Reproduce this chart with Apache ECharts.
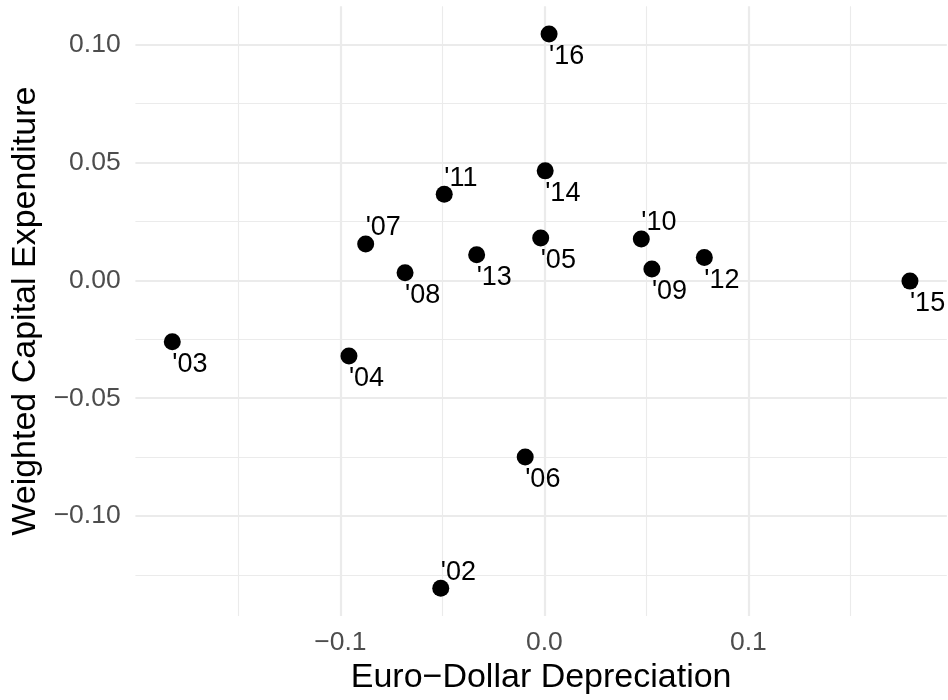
<!DOCTYPE html>
<html>
<head>
<meta charset="utf-8">
<title>Euro-Dollar Depreciation vs Weighted Capital Expenditure</title>
<script src="https://cdn.jsdelivr.net/npm/echarts@6/dist/echarts.min.js"></script>
<style>
  html, body { margin: 0; padding: 0; background: #fff; }
  #chart { width: 948px; height: 700px; }
</style>
</head>
<body>
<div id="chart"></div>
<script>
// year labels and values
const years = ["'02", "'03", "'04", "'05", "'06", "'07", "'08", "'09",
               "'10", "'11", "'12", "'13", "'14", "'15", "'16"];
const depreciation = [-0.0508, -0.1824, -0.0958, -0.0018, -0.0094, -0.0876, -0.0683, 0.0527,
                      0.0475, -0.0491, 0.0784, -0.0332, 0.0004, 0.1792, 0.0023];
const capex = [-0.1307, -0.0260, -0.0321, 0.0180, -0.0750, 0.0155, 0.0033, 0.0048,
               0.0176, 0.0366, 0.0097, 0.0109, 0.0465, -0.0003, 0.1046];

// labels drawn above their point instead of below
const labelsAbove = ["'02", "'07", "'10", "'11"];

// tick / grid positions
const xMajor = [-0.1, 0, 0.1];
const xMinor = [-0.15, -0.05, 0.05, 0.15];
const yMajor = [-0.10, -0.05, 0, 0.05, 0.10];
const yMinor = [-0.125, -0.075, -0.025, 0.025, 0.075];

// ggplot-like 5% expansion of the data range
function expanded(vals) {
  const lo = Math.min.apply(null, vals), hi = Math.max.apply(null, vals);
  const pad = (hi - lo) * 0.05;
  return [lo - pad, hi + pad];
}
const xr = expanded(depreciation);
const yr = expanded(capex);

const minus = s => s.replace('-', '\u2212');
const FONT = 'Liberation Sans';
const GRID = '#EBEBEB';

const points = years.map((y, i) => ({
  value: [depreciation[i], capex[i]],
  name: y,
  label: { offset: [0, labelsAbove.indexOf(y) >= 0 ? -16 : 22.5] }
}));

function gridAxis(values, width, extent) {
  return {
    type: 'value', min: extent[0], max: extent[1],
    axisLine: { show: false },
    axisTick: { show: false, customValues: values },
    axisLabel: { show: false, customValues: values },
    splitLine: { show: true, customValues: values, lineStyle: { color: GRID, width: width } }
  };
}

const chart = echarts.init(document.getElementById('chart'), null, { renderer: 'canvas' });
chart.setOption({
  animation: false,
  backgroundColor: '#fff',
  grid: { left: 135.4, right: 1.15, top: 6.3, bottom: 81.1, containLabel: false },
  xAxis: [
    Object.assign(gridAxis(xMajor, 2.2, xr), {
      position: 'bottom',
      name: 'Euro\u2212Dollar Depreciation',
      nameLocation: 'middle',
      nameGap: 45,
      nameTextStyle: { fontFamily: FONT, fontSize: 34, color: '#000' },
      axisLabel: {
        show: true, customValues: xMajor, margin: 13,
        fontFamily: FONT, fontSize: 26.5, color: '#4D4D4D',
        formatter: v => minus(v.toFixed(1))
      }
    }),
    Object.assign(gridAxis(xMinor, 1.1, xr), { position: 'top' })
  ],
  yAxis: [
    Object.assign(gridAxis(yMajor, 2.2, yr), {
      position: 'left',
      name: 'Weighted Capital Expenditure',
      nameLocation: 'middle',
      nameGap: 92,
      nameTextStyle: { fontFamily: FONT, fontSize: 34, color: '#000' },
      axisLabel: {
        show: true, customValues: yMajor, margin: 14.7,
        fontFamily: FONT, fontSize: 26.5, color: '#4D4D4D',
        formatter: v => minus(v.toFixed(2))
      }
    }),
    Object.assign(gridAxis(yMinor, 1.1, yr), { position: 'right' })
  ],
  series: [{
    type: 'scatter',
    xAxisIndex: 0,
    yAxisIndex: 0,
    symbol: 'circle',
    symbolSize: 17,
    itemStyle: { color: '#000', opacity: 1 },
    label: {
      show: true,
      position: 'inside',
      align: 'left',
      verticalAlign: 'middle',
      fontFamily: FONT,
      fontSize: 27,
      color: '#000',
      opacity: 1,
      formatter: p => p.name
    },
    emphasis: { disabled: true },
    data: points,
    z: 3
  }]
});
</script>
</body>
</html>
